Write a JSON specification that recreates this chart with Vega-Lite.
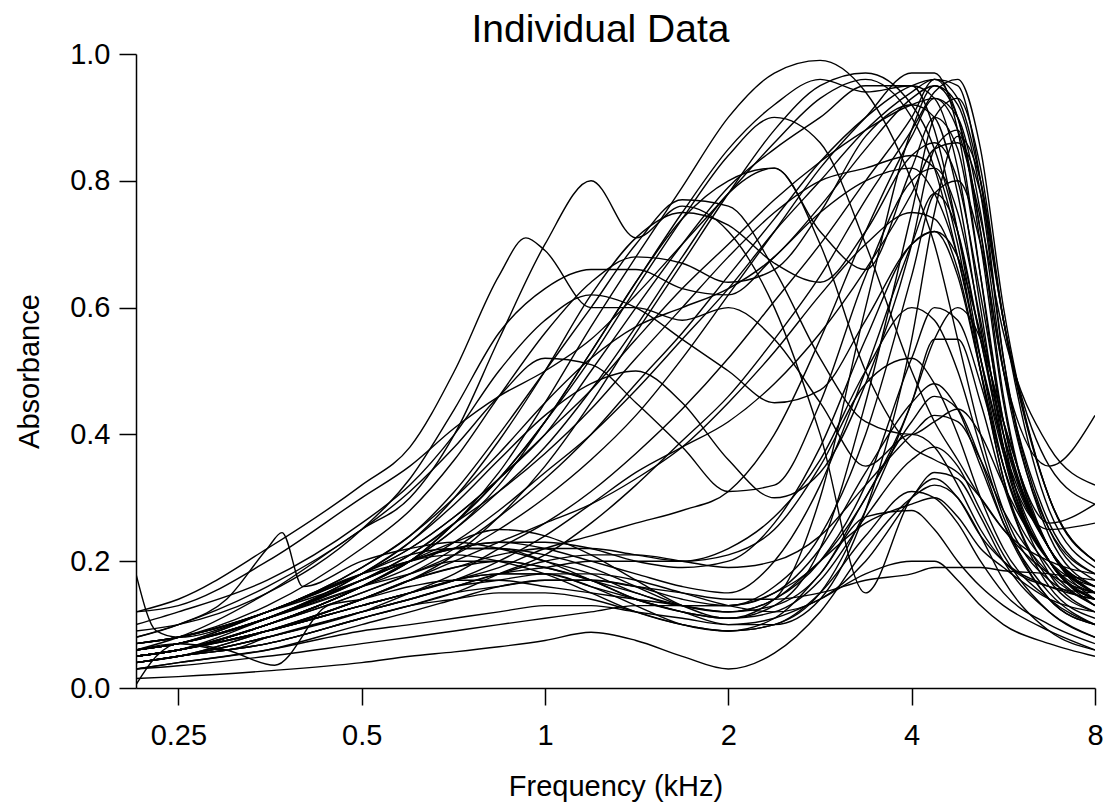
{
"$schema": "https://vega.github.io/schema/vega-lite/v6.json",
"width": 959, "height": 634,
"autosize": {"type": "none"},
"padding": {"left": 136, "top": 54, "right": 9, "bottom": 115},
"background": "white",
"title": {"text": "Individual Data", "fontSize": 39, "font": "Liberation Sans", "fontWeight": "normal", "color": "black", "frame": "group", "offset": -10, "dx": -15},
"config": {
  "view": {"stroke": null},
  "axis": {"domainColor": "black", "domainWidth": 1.5, "tickColor": "black", "tickWidth": 1.5, "tickSize": 17, "labelColor": "black", "titleColor": "black", "labelFont": "Liberation Sans", "titleFont": "Liberation Sans", "labelFontSize": 29, "titleFontSize": 29, "titleFontWeight": "normal", "grid": false}
},
"data": {"values": [
{"s":1,"f":0.213,"a":0.06},{"s":1,"f":0.25,"a":0.08},{"s":1,"f":0.35,"a":0.15},{"s":1,"f":0.5,"a":0.25},{"s":1,"f":0.6,"a":0.3},{"s":1,"f":0.71,"a":0.4},{"s":1,"f":0.84,"a":0.55},{"s":1,"f":1,"a":0.7},{"s":1,"f":1.19,"a":0.8},{"s":1,"f":1.41,"a":0.71},{"s":1,"f":1.68,"a":0.76},{"s":1,"f":2,"a":0.72},{"s":1,"f":2.38,"a":0.6},{"s":1,"f":2.83,"a":0.4},{"s":1,"f":3.36,"a":0.15},{"s":1,"f":4,"a":0.3},{"s":1,"f":4.36,"a":0.33},{"s":1,"f":4.76,"a":0.3},{"s":1,"f":5.19,"a":0.24},{"s":1,"f":5.66,"a":0.2},{"s":1,"f":6.73,"a":0.16},{"s":1,"f":8,"a":0.14},
{"s":2,"f":0.213,"a":0.12},{"s":2,"f":0.25,"a":0.14},{"s":2,"f":0.35,"a":0.22},{"s":2,"f":0.5,"a":0.32},{"s":2,"f":0.6,"a":0.38},{"s":2,"f":0.71,"a":0.5},{"s":2,"f":0.84,"a":0.65},{"s":2,"f":0.93,"a":0.71},{"s":2,"f":1,"a":0.69},{"s":2,"f":1.19,"a":0.6},{"s":2,"f":1.41,"a":0.6},{"s":2,"f":1.68,"a":0.58},{"s":2,"f":2,"a":0.6},{"s":2,"f":2.38,"a":0.55},{"s":2,"f":2.83,"a":0.45},{"s":2,"f":3.36,"a":0.35},{"s":2,"f":4,"a":0.4},{"s":2,"f":4.36,"a":0.38},{"s":2,"f":4.76,"a":0.32},{"s":2,"f":5.19,"a":0.25},{"s":2,"f":5.66,"a":0.2},{"s":2,"f":6.73,"a":0.16},{"s":2,"f":8,"a":0.15},
{"s":3,"f":0.213,"a":0.05},{"s":3,"f":0.25,"a":0.06},{"s":3,"f":0.35,"a":0.1},{"s":3,"f":0.5,"a":0.16},{"s":3,"f":0.6,"a":0.2},{"s":3,"f":0.71,"a":0.26},{"s":3,"f":0.84,"a":0.34},{"s":3,"f":1,"a":0.45},{"s":3,"f":1.19,"a":0.57},{"s":3,"f":1.41,"a":0.68},{"s":3,"f":1.68,"a":0.79},{"s":3,"f":2,"a":0.9},{"s":3,"f":2.38,"a":0.97},{"s":3,"f":2.83,"a":0.99},{"s":3,"f":3.36,"a":0.94},{"s":3,"f":4,"a":0.8},{"s":3,"f":4.36,"a":0.7},{"s":3,"f":4.76,"a":0.55},{"s":3,"f":5.19,"a":0.4},{"s":3,"f":5.66,"a":0.28},{"s":3,"f":6.73,"a":0.17},{"s":3,"f":8,"a":0.14},
{"s":4,"f":0.213,"a":0.04},{"s":4,"f":0.25,"a":0.05},{"s":4,"f":0.35,"a":0.09},{"s":4,"f":0.5,"a":0.14},{"s":4,"f":0.6,"a":0.17},{"s":4,"f":0.71,"a":0.21},{"s":4,"f":0.84,"a":0.27},{"s":4,"f":1,"a":0.35},{"s":4,"f":1.19,"a":0.45},{"s":4,"f":1.41,"a":0.56},{"s":4,"f":1.68,"a":0.67},{"s":4,"f":2,"a":0.78},{"s":4,"f":2.38,"a":0.88},{"s":4,"f":2.83,"a":0.95},{"s":4,"f":3.36,"a":0.97},{"s":4,"f":4,"a":0.92},{"s":4,"f":4.36,"a":0.85},{"s":4,"f":4.76,"a":0.72},{"s":4,"f":5.19,"a":0.55},{"s":4,"f":5.66,"a":0.4},{"s":4,"f":6.73,"a":0.22},{"s":4,"f":8,"a":0.15},
{"s":5,"f":0.213,"a":0.05},{"s":5,"f":0.25,"a":0.06},{"s":5,"f":0.35,"a":0.1},{"s":5,"f":0.5,"a":0.15},{"s":5,"f":0.6,"a":0.18},{"s":5,"f":0.71,"a":0.21},{"s":5,"f":0.84,"a":0.25},{"s":5,"f":1,"a":0.3},{"s":5,"f":1.19,"a":0.36},{"s":5,"f":1.41,"a":0.43},{"s":5,"f":1.68,"a":0.52},{"s":5,"f":2,"a":0.62},{"s":5,"f":2.38,"a":0.72},{"s":5,"f":2.83,"a":0.82},{"s":5,"f":3.36,"a":0.9},{"s":5,"f":4,"a":0.97},{"s":5,"f":4.36,"a":0.97},{"s":5,"f":4.76,"a":0.88},{"s":5,"f":5.19,"a":0.65},{"s":5,"f":5.66,"a":0.4},{"s":5,"f":6.73,"a":0.2},{"s":5,"f":8,"a":0.15},
{"s":6,"f":0.213,"a":0.04},{"s":6,"f":0.25,"a":0.05},{"s":6,"f":0.35,"a":0.08},{"s":6,"f":0.5,"a":0.12},{"s":6,"f":0.6,"a":0.15},{"s":6,"f":0.71,"a":0.18},{"s":6,"f":0.84,"a":0.22},{"s":6,"f":1,"a":0.26},{"s":6,"f":1.19,"a":0.31},{"s":6,"f":1.41,"a":0.37},{"s":6,"f":1.68,"a":0.44},{"s":6,"f":2,"a":0.52},{"s":6,"f":2.38,"a":0.61},{"s":6,"f":2.83,"a":0.7},{"s":6,"f":3.36,"a":0.8},{"s":6,"f":4,"a":0.9},{"s":6,"f":4.36,"a":0.96},{"s":6,"f":4.76,"a":0.95},{"s":6,"f":5.19,"a":0.8},{"s":6,"f":5.66,"a":0.52},{"s":6,"f":6.73,"a":0.24},{"s":6,"f":8,"a":0.16},
{"s":7,"f":0.213,"a":0.06},{"s":7,"f":0.25,"a":0.07},{"s":7,"f":0.35,"a":0.12},{"s":7,"f":0.5,"a":0.18},{"s":7,"f":0.6,"a":0.22},{"s":7,"f":0.71,"a":0.27},{"s":7,"f":0.84,"a":0.33},{"s":7,"f":1,"a":0.4},{"s":7,"f":1.19,"a":0.5},{"s":7,"f":1.41,"a":0.6},{"s":7,"f":1.68,"a":0.7},{"s":7,"f":2,"a":0.79},{"s":7,"f":2.38,"a":0.85},{"s":7,"f":2.83,"a":0.9},{"s":7,"f":3.36,"a":0.95},{"s":7,"f":4,"a":0.95},{"s":7,"f":4.36,"a":0.88},{"s":7,"f":4.76,"a":0.72},{"s":7,"f":5.19,"a":0.52},{"s":7,"f":5.66,"a":0.35},{"s":7,"f":6.73,"a":0.2},{"s":7,"f":8,"a":0.13},
{"s":8,"f":0.213,"a":0.05},{"s":8,"f":0.25,"a":0.06},{"s":8,"f":0.35,"a":0.1},{"s":8,"f":0.5,"a":0.16},{"s":8,"f":0.6,"a":0.2},{"s":8,"f":0.71,"a":0.25},{"s":8,"f":0.84,"a":0.32},{"s":8,"f":1,"a":0.42},{"s":8,"f":1.19,"a":0.53},{"s":8,"f":1.41,"a":0.64},{"s":8,"f":1.68,"a":0.75},{"s":8,"f":2,"a":0.85},{"s":8,"f":2.38,"a":0.92},{"s":8,"f":2.83,"a":0.96},{"s":8,"f":3.36,"a":0.94},{"s":8,"f":4,"a":0.95},{"s":8,"f":4.36,"a":0.93},{"s":8,"f":4.76,"a":0.82},{"s":8,"f":5.19,"a":0.6},{"s":8,"f":5.66,"a":0.38},{"s":8,"f":6.73,"a":0.2},{"s":8,"f":8,"a":0.14},
{"s":9,"f":0.213,"a":0.07},{"s":9,"f":0.25,"a":0.08},{"s":9,"f":0.35,"a":0.12},{"s":9,"f":0.5,"a":0.19},{"s":9,"f":0.6,"a":0.24},{"s":9,"f":0.71,"a":0.3},{"s":9,"f":0.84,"a":0.37},{"s":9,"f":1,"a":0.45},{"s":9,"f":1.19,"a":0.52},{"s":9,"f":1.41,"a":0.57},{"s":9,"f":1.68,"a":0.6},{"s":9,"f":2,"a":0.63},{"s":9,"f":2.38,"a":0.68},{"s":9,"f":2.83,"a":0.76},{"s":9,"f":3.36,"a":0.85},{"s":9,"f":4,"a":0.93},{"s":9,"f":4.36,"a":0.95},{"s":9,"f":4.76,"a":0.9},{"s":9,"f":5.19,"a":0.72},{"s":9,"f":5.66,"a":0.46},{"s":9,"f":6.73,"a":0.22},{"s":9,"f":8,"a":0.16},
{"s":10,"f":0.213,"a":0.05},{"s":10,"f":0.25,"a":0.06},{"s":10,"f":0.35,"a":0.09},{"s":10,"f":0.5,"a":0.13},{"s":10,"f":0.6,"a":0.15},{"s":10,"f":0.71,"a":0.17},{"s":10,"f":0.84,"a":0.19},{"s":10,"f":1,"a":0.22},{"s":10,"f":1.19,"a":0.24},{"s":10,"f":1.41,"a":0.26},{"s":10,"f":1.68,"a":0.28},{"s":10,"f":2,"a":0.31},{"s":10,"f":2.38,"a":0.4},{"s":10,"f":2.83,"a":0.55},{"s":10,"f":3.36,"a":0.72},{"s":10,"f":4,"a":0.87},{"s":10,"f":4.36,"a":0.93},{"s":10,"f":4.76,"a":0.9},{"s":10,"f":5.19,"a":0.75},{"s":10,"f":5.66,"a":0.5},{"s":10,"f":6.73,"a":0.25},{"s":10,"f":8,"a":0.18},
{"s":11,"f":0.213,"a":0.04},{"s":11,"f":0.25,"a":0.05},{"s":11,"f":0.35,"a":0.07},{"s":11,"f":0.5,"a":0.11},{"s":11,"f":0.6,"a":0.13},{"s":11,"f":0.71,"a":0.15},{"s":11,"f":0.84,"a":0.18},{"s":11,"f":1,"a":0.21},{"s":11,"f":1.19,"a":0.26},{"s":11,"f":1.41,"a":0.32},{"s":11,"f":1.68,"a":0.39},{"s":11,"f":2,"a":0.46},{"s":11,"f":2.38,"a":0.55},{"s":11,"f":2.83,"a":0.65},{"s":11,"f":3.36,"a":0.77},{"s":11,"f":4,"a":0.88},{"s":11,"f":4.36,"a":0.94},{"s":11,"f":4.76,"a":0.96},{"s":11,"f":5.19,"a":0.85},{"s":11,"f":5.66,"a":0.6},{"s":11,"f":6.73,"a":0.3},{"s":11,"f":8,"a":0.2},
{"s":12,"f":0.213,"a":0.06},{"s":12,"f":0.25,"a":0.07},{"s":12,"f":0.35,"a":0.11},{"s":12,"f":0.5,"a":0.17},{"s":12,"f":0.6,"a":0.21},{"s":12,"f":0.71,"a":0.26},{"s":12,"f":0.84,"a":0.31},{"s":12,"f":1,"a":0.37},{"s":12,"f":1.19,"a":0.44},{"s":12,"f":1.41,"a":0.52},{"s":12,"f":1.68,"a":0.6},{"s":12,"f":2,"a":0.68},{"s":12,"f":2.38,"a":0.75},{"s":12,"f":2.83,"a":0.8},{"s":12,"f":3.36,"a":0.82},{"s":12,"f":4,"a":0.84},{"s":12,"f":4.36,"a":0.82},{"s":12,"f":4.76,"a":0.7},{"s":12,"f":5.19,"a":0.5},{"s":12,"f":5.66,"a":0.33},{"s":12,"f":6.73,"a":0.19},{"s":12,"f":8,"a":0.13},
{"s":13,"f":0.213,"a":0.05},{"s":13,"f":0.25,"a":0.06},{"s":13,"f":0.35,"a":0.09},{"s":13,"f":0.5,"a":0.14},{"s":13,"f":0.6,"a":0.17},{"s":13,"f":0.71,"a":0.2},{"s":13,"f":0.84,"a":0.23},{"s":13,"f":1,"a":0.26},{"s":13,"f":1.19,"a":0.29},{"s":13,"f":1.41,"a":0.33},{"s":13,"f":1.68,"a":0.38},{"s":13,"f":2,"a":0.45},{"s":13,"f":2.38,"a":0.53},{"s":13,"f":2.83,"a":0.62},{"s":13,"f":3.36,"a":0.7},{"s":13,"f":4,"a":0.75},{"s":13,"f":4.36,"a":0.74},{"s":13,"f":4.76,"a":0.66},{"s":13,"f":5.19,"a":0.5},{"s":13,"f":5.66,"a":0.33},{"s":13,"f":6.73,"a":0.17},{"s":13,"f":8,"a":0.12},
{"s":14,"f":0.213,"a":0.04},{"s":14,"f":0.25,"a":0.05},{"s":14,"f":0.35,"a":0.08},{"s":14,"f":0.5,"a":0.12},{"s":14,"f":0.6,"a":0.14},{"s":14,"f":0.71,"a":0.16},{"s":14,"f":0.84,"a":0.18},{"s":14,"f":1,"a":0.19},{"s":14,"f":1.19,"a":0.2},{"s":14,"f":1.41,"a":0.2},{"s":14,"f":1.68,"a":0.2},{"s":14,"f":2,"a":0.22},{"s":14,"f":2.38,"a":0.27},{"s":14,"f":2.83,"a":0.36},{"s":14,"f":3.36,"a":0.5},{"s":14,"f":4,"a":0.6},{"s":14,"f":4.36,"a":0.58},{"s":14,"f":4.76,"a":0.5},{"s":14,"f":5.19,"a":0.38},{"s":14,"f":5.66,"a":0.27},{"s":14,"f":6.73,"a":0.14},{"s":14,"f":8,"a":0.1},
{"s":15,"f":0.213,"a":0.05},{"s":15,"f":0.25,"a":0.06},{"s":15,"f":0.35,"a":0.09},{"s":15,"f":0.5,"a":0.14},{"s":15,"f":0.6,"a":0.17},{"s":15,"f":0.71,"a":0.19},{"s":15,"f":0.84,"a":0.21},{"s":15,"f":1,"a":0.22},{"s":15,"f":1.19,"a":0.22},{"s":15,"f":1.41,"a":0.21},{"s":15,"f":1.68,"a":0.2},{"s":15,"f":2,"a":0.21},{"s":15,"f":2.38,"a":0.25},{"s":15,"f":2.83,"a":0.35},{"s":15,"f":3.36,"a":0.48},{"s":15,"f":4,"a":0.52},{"s":15,"f":4.36,"a":0.48},{"s":15,"f":4.76,"a":0.4},{"s":15,"f":5.19,"a":0.3},{"s":15,"f":5.66,"a":0.22},{"s":15,"f":6.73,"a":0.14},{"s":15,"f":8,"a":0.1},
{"s":16,"f":0.213,"a":0.03},{"s":16,"f":0.25,"a":0.04},{"s":16,"f":0.35,"a":0.06},{"s":16,"f":0.5,"a":0.1},{"s":16,"f":0.6,"a":0.12},{"s":16,"f":0.71,"a":0.14},{"s":16,"f":0.84,"a":0.16},{"s":16,"f":1,"a":0.17},{"s":16,"f":1.19,"a":0.17},{"s":16,"f":1.41,"a":0.16},{"s":16,"f":1.68,"a":0.14},{"s":16,"f":2,"a":0.13},{"s":16,"f":2.38,"a":0.15},{"s":16,"f":2.83,"a":0.22},{"s":16,"f":3.36,"a":0.34},{"s":16,"f":4,"a":0.45},{"s":16,"f":4.36,"a":0.48},{"s":16,"f":4.76,"a":0.44},{"s":16,"f":5.19,"a":0.35},{"s":16,"f":5.66,"a":0.26},{"s":16,"f":6.73,"a":0.15},{"s":16,"f":8,"a":0.1},
{"s":17,"f":0.213,"a":0.05},{"s":17,"f":0.25,"a":0.06},{"s":17,"f":0.35,"a":0.09},{"s":17,"f":0.5,"a":0.13},{"s":17,"f":0.6,"a":0.15},{"s":17,"f":0.71,"a":0.17},{"s":17,"f":0.84,"a":0.18},{"s":17,"f":1,"a":0.18},{"s":17,"f":1.19,"a":0.16},{"s":17,"f":1.41,"a":0.14},{"s":17,"f":1.68,"a":0.12},{"s":17,"f":2,"a":0.11},{"s":17,"f":2.38,"a":0.12},{"s":17,"f":2.83,"a":0.17},{"s":17,"f":3.36,"a":0.27},{"s":17,"f":4,"a":0.36},{"s":17,"f":4.36,"a":0.38},{"s":17,"f":4.76,"a":0.35},{"s":17,"f":5.19,"a":0.28},{"s":17,"f":5.66,"a":0.21},{"s":17,"f":6.73,"a":0.12},{"s":17,"f":8,"a":0.08},
{"s":18,"f":0.213,"a":0.015},{"s":18,"f":0.25,"a":0.018},{"s":18,"f":0.35,"a":0.027},{"s":18,"f":0.5,"a":0.04},{"s":18,"f":0.6,"a":0.05},{"s":18,"f":0.71,"a":0.057},{"s":18,"f":0.84,"a":0.065},{"s":18,"f":1,"a":0.075},{"s":18,"f":1.19,"a":0.088},{"s":18,"f":1.41,"a":0.075},{"s":18,"f":1.68,"a":0.05},{"s":18,"f":2,"a":0.03},{"s":18,"f":2.38,"a":0.055},{"s":18,"f":2.83,"a":0.12},{"s":18,"f":3.36,"a":0.22},{"s":18,"f":4,"a":0.3},{"s":18,"f":4.36,"a":0.32},{"s":18,"f":4.76,"a":0.3},{"s":18,"f":5.19,"a":0.24},{"s":18,"f":5.66,"a":0.17},{"s":18,"f":6.73,"a":0.09},{"s":18,"f":8,"a":0.06},
{"s":19,"f":0.213,"a":0.04},{"s":19,"f":0.25,"a":0.05},{"s":19,"f":0.35,"a":0.07},{"s":19,"f":0.5,"a":0.11},{"s":19,"f":0.6,"a":0.13},{"s":19,"f":0.71,"a":0.14},{"s":19,"f":0.84,"a":0.15},{"s":19,"f":1,"a":0.15},{"s":19,"f":1.19,"a":0.14},{"s":19,"f":1.41,"a":0.12},{"s":19,"f":1.68,"a":0.1},{"s":19,"f":2,"a":0.09},{"s":19,"f":2.38,"a":0.1},{"s":19,"f":2.83,"a":0.15},{"s":19,"f":3.36,"a":0.24},{"s":19,"f":4,"a":0.31},{"s":19,"f":4.36,"a":0.3},{"s":19,"f":4.76,"a":0.26},{"s":19,"f":5.19,"a":0.2},{"s":19,"f":5.66,"a":0.15},{"s":19,"f":6.73,"a":0.1},{"s":19,"f":8,"a":0.07},
{"s":20,"f":0.213,"a":0.03},{"s":20,"f":0.25,"a":0.04},{"s":20,"f":0.35,"a":0.06},{"s":20,"f":0.5,"a":0.09},{"s":20,"f":0.6,"a":0.1},{"s":20,"f":0.71,"a":0.11},{"s":20,"f":0.84,"a":0.12},{"s":20,"f":1,"a":0.13},{"s":20,"f":1.19,"a":0.13},{"s":20,"f":1.41,"a":0.12},{"s":20,"f":1.68,"a":0.11},{"s":20,"f":2,"a":0.1},{"s":20,"f":2.38,"a":0.11},{"s":20,"f":2.83,"a":0.14},{"s":20,"f":3.36,"a":0.18},{"s":20,"f":4,"a":0.2},{"s":20,"f":4.36,"a":0.2},{"s":20,"f":4.76,"a":0.17},{"s":20,"f":5.19,"a":0.13},{"s":20,"f":5.66,"a":0.1},{"s":20,"f":6.73,"a":0.07},{"s":20,"f":8,"a":0.05},
{"s":21,"f":0.213,"a":0.06},{"s":21,"f":0.25,"a":0.07},{"s":21,"f":0.35,"a":0.11},{"s":21,"f":0.5,"a":0.17},{"s":21,"f":0.6,"a":0.21},{"s":21,"f":0.71,"a":0.26},{"s":21,"f":0.84,"a":0.33},{"s":21,"f":1,"a":0.42},{"s":21,"f":1.19,"a":0.53},{"s":21,"f":1.41,"a":0.64},{"s":21,"f":1.68,"a":0.74},{"s":21,"f":2,"a":0.8},{"s":21,"f":2.38,"a":0.82},{"s":21,"f":2.83,"a":0.72},{"s":21,"f":3.36,"a":0.66},{"s":21,"f":4,"a":0.82},{"s":21,"f":4.36,"a":0.9},{"s":21,"f":4.76,"a":0.85},{"s":21,"f":5.19,"a":0.65},{"s":21,"f":5.66,"a":0.42},{"s":21,"f":6.73,"a":0.22},{"s":21,"f":8,"a":0.15},
{"s":22,"f":0.213,"a":0.07},{"s":22,"f":0.25,"a":0.08},{"s":22,"f":0.35,"a":0.13},{"s":22,"f":0.5,"a":0.22},{"s":22,"f":0.6,"a":0.28},{"s":22,"f":0.71,"a":0.36},{"s":22,"f":0.84,"a":0.46},{"s":22,"f":1,"a":0.56},{"s":22,"f":1.19,"a":0.64},{"s":22,"f":1.41,"a":0.68},{"s":22,"f":1.68,"a":0.67},{"s":22,"f":2,"a":0.64},{"s":22,"f":2.38,"a":0.66},{"s":22,"f":2.83,"a":0.75},{"s":22,"f":3.36,"a":0.87},{"s":22,"f":4,"a":0.92},{"s":22,"f":4.36,"a":0.9},{"s":22,"f":4.76,"a":0.78},{"s":22,"f":5.19,"a":0.57},{"s":22,"f":5.66,"a":0.37},{"s":22,"f":6.73,"a":0.2},{"s":22,"f":8,"a":0.14},
{"s":23,"f":0.213,"a":0.06},{"s":23,"f":0.25,"a":0.07},{"s":23,"f":0.35,"a":0.11},{"s":23,"f":0.5,"a":0.18},{"s":23,"f":0.6,"a":0.23},{"s":23,"f":0.71,"a":0.3},{"s":23,"f":0.84,"a":0.39},{"s":23,"f":1,"a":0.5},{"s":23,"f":1.19,"a":0.62},{"s":23,"f":1.41,"a":0.71},{"s":23,"f":1.68,"a":0.75},{"s":23,"f":2,"a":0.73},{"s":23,"f":2.38,"a":0.67},{"s":23,"f":2.83,"a":0.64},{"s":23,"f":3.36,"a":0.72},{"s":23,"f":4,"a":0.84},{"s":23,"f":4.36,"a":0.86},{"s":23,"f":4.76,"a":0.8},{"s":23,"f":5.19,"a":0.62},{"s":23,"f":5.66,"a":0.42},{"s":23,"f":6.73,"a":0.22},{"s":23,"f":8,"a":0.15},
{"s":24,"f":0.213,"a":0.08},{"s":24,"f":0.25,"a":0.1},{"s":24,"f":0.35,"a":0.16},{"s":24,"f":0.5,"a":0.25},{"s":24,"f":0.6,"a":0.31},{"s":24,"f":0.71,"a":0.38},{"s":24,"f":0.84,"a":0.46},{"s":24,"f":1,"a":0.52},{"s":24,"f":1.19,"a":0.51},{"s":24,"f":1.41,"a":0.45},{"s":24,"f":1.68,"a":0.38},{"s":24,"f":2,"a":0.31},{"s":24,"f":2.38,"a":0.32},{"s":24,"f":2.83,"a":0.45},{"s":24,"f":3.36,"a":0.65},{"s":24,"f":4,"a":0.8},{"s":24,"f":4.36,"a":0.82},{"s":24,"f":4.76,"a":0.75},{"s":24,"f":5.19,"a":0.58},{"s":24,"f":5.66,"a":0.4},{"s":24,"f":6.73,"a":0.22},{"s":24,"f":8,"a":0.16},
{"s":25,"f":0.213,"a":0.06},{"s":25,"f":0.25,"a":0.07},{"s":25,"f":0.35,"a":0.11},{"s":25,"f":0.5,"a":0.18},{"s":25,"f":0.6,"a":0.23},{"s":25,"f":0.71,"a":0.29},{"s":25,"f":0.84,"a":0.36},{"s":25,"f":1,"a":0.43},{"s":25,"f":1.19,"a":0.48},{"s":25,"f":1.41,"a":0.5},{"s":25,"f":1.68,"a":0.45},{"s":25,"f":2,"a":0.36},{"s":25,"f":2.38,"a":0.3},{"s":25,"f":2.83,"a":0.34},{"s":25,"f":3.36,"a":0.48},{"s":25,"f":4,"a":0.7},{"s":25,"f":4.36,"a":0.85},{"s":25,"f":4.76,"a":0.88},{"s":25,"f":5.19,"a":0.7},{"s":25,"f":5.66,"a":0.45},{"s":25,"f":6.73,"a":0.22},{"s":25,"f":8,"a":0.15},
{"s":26,"f":0.213,"a":0.1},{"s":26,"f":0.25,"a":0.12},{"s":26,"f":0.35,"a":0.17},{"s":26,"f":0.5,"a":0.26},{"s":26,"f":0.6,"a":0.32},{"s":26,"f":0.71,"a":0.4},{"s":26,"f":0.84,"a":0.5},{"s":26,"f":1,"a":0.58},{"s":26,"f":1.19,"a":0.62},{"s":26,"f":1.41,"a":0.6},{"s":26,"f":1.68,"a":0.55},{"s":26,"f":2,"a":0.5},{"s":26,"f":2.38,"a":0.45},{"s":26,"f":2.83,"a":0.47},{"s":26,"f":3.36,"a":0.58},{"s":26,"f":4,"a":0.7},{"s":26,"f":4.36,"a":0.72},{"s":26,"f":4.76,"a":0.65},{"s":26,"f":5.19,"a":0.5},{"s":26,"f":5.66,"a":0.35},{"s":26,"f":6.73,"a":0.2},{"s":26,"f":8,"a":0.14},
{"s":27,"f":0.213,"a":0.09},{"s":27,"f":0.25,"a":0.1},{"s":27,"f":0.35,"a":0.15},{"s":27,"f":0.5,"a":0.25},{"s":27,"f":0.6,"a":0.33},{"s":27,"f":0.71,"a":0.44},{"s":27,"f":0.84,"a":0.56},{"s":27,"f":1,"a":0.63},{"s":27,"f":1.19,"a":0.66},{"s":27,"f":1.41,"a":0.66},{"s":27,"f":1.68,"a":0.63},{"s":27,"f":2,"a":0.62},{"s":27,"f":2.38,"a":0.68},{"s":27,"f":2.83,"a":0.75},{"s":27,"f":3.36,"a":0.8},{"s":27,"f":4,"a":0.82},{"s":27,"f":4.36,"a":0.78},{"s":27,"f":4.76,"a":0.68},{"s":27,"f":5.19,"a":0.52},{"s":27,"f":5.66,"a":0.37},{"s":27,"f":6.73,"a":0.25},{"s":27,"f":8,"a":0.26},
{"s":28,"f":0.213,"a":0.12},{"s":28,"f":0.25,"a":0.13},{"s":28,"f":0.35,"a":0.2},{"s":28,"f":0.5,"a":0.3},{"s":28,"f":0.6,"a":0.35},{"s":28,"f":0.71,"a":0.41},{"s":28,"f":0.84,"a":0.46},{"s":28,"f":1,"a":0.5},{"s":28,"f":1.19,"a":0.55},{"s":28,"f":1.41,"a":0.62},{"s":28,"f":1.68,"a":0.7},{"s":28,"f":2,"a":0.78},{"s":28,"f":2.38,"a":0.86},{"s":28,"f":2.83,"a":0.93},{"s":28,"f":3.36,"a":0.96},{"s":28,"f":4,"a":0.9},{"s":28,"f":4.36,"a":0.82},{"s":28,"f":4.76,"a":0.68},{"s":28,"f":5.19,"a":0.52},{"s":28,"f":5.66,"a":0.38},{"s":28,"f":6.73,"a":0.22},{"s":28,"f":8,"a":0.15},
{"s":29,"f":0.213,"a":0.05},{"s":29,"f":0.25,"a":0.06},{"s":29,"f":0.35,"a":0.1},{"s":29,"f":0.5,"a":0.16},{"s":29,"f":0.6,"a":0.2},{"s":29,"f":0.71,"a":0.25},{"s":29,"f":0.84,"a":0.31},{"s":29,"f":1,"a":0.38},{"s":29,"f":1.19,"a":0.47},{"s":29,"f":1.41,"a":0.57},{"s":29,"f":1.68,"a":0.68},{"s":29,"f":2,"a":0.78},{"s":29,"f":2.38,"a":0.82},{"s":29,"f":2.83,"a":0.7},{"s":29,"f":3.36,"a":0.5},{"s":29,"f":4,"a":0.38},{"s":29,"f":4.36,"a":0.36},{"s":29,"f":4.76,"a":0.34},{"s":29,"f":5.19,"a":0.3},{"s":29,"f":5.66,"a":0.25},{"s":29,"f":6.73,"a":0.18},{"s":29,"f":8,"a":0.15},
{"s":30,"f":0.213,"a":0.07},{"s":30,"f":0.25,"a":0.08},{"s":30,"f":0.35,"a":0.12},{"s":30,"f":0.5,"a":0.19},{"s":30,"f":0.6,"a":0.24},{"s":30,"f":0.71,"a":0.31},{"s":30,"f":0.84,"a":0.4},{"s":30,"f":1,"a":0.5},{"s":30,"f":1.19,"a":0.6},{"s":30,"f":1.41,"a":0.7},{"s":30,"f":1.68,"a":0.77},{"s":30,"f":2,"a":0.76},{"s":30,"f":2.38,"a":0.66},{"s":30,"f":2.83,"a":0.52},{"s":30,"f":3.36,"a":0.42},{"s":30,"f":4,"a":0.4},{"s":30,"f":4.36,"a":0.42},{"s":30,"f":4.76,"a":0.44},{"s":30,"f":5.19,"a":0.4},{"s":30,"f":5.66,"a":0.32},{"s":30,"f":6.73,"a":0.2},{"s":30,"f":8,"a":0.16},
{"s":31,"f":0.213,"a":0.05},{"s":31,"f":0.25,"a":0.06},{"s":31,"f":0.35,"a":0.1},{"s":31,"f":0.5,"a":0.16},{"s":31,"f":0.6,"a":0.2},{"s":31,"f":0.71,"a":0.23},{"s":31,"f":0.84,"a":0.25},{"s":31,"f":1,"a":0.24},{"s":31,"f":1.19,"a":0.21},{"s":31,"f":1.41,"a":0.17},{"s":31,"f":1.68,"a":0.13},{"s":31,"f":2,"a":0.11},{"s":31,"f":2.38,"a":0.14},{"s":31,"f":2.83,"a":0.3},{"s":31,"f":3.36,"a":0.6},{"s":31,"f":4,"a":0.88},{"s":31,"f":4.36,"a":0.95},{"s":31,"f":4.76,"a":0.92},{"s":31,"f":5.19,"a":0.78},{"s":31,"f":5.66,"a":0.52},{"s":31,"f":6.73,"a":0.25},{"s":31,"f":8,"a":0.17},
{"s":32,"f":0.213,"a":0.06},{"s":32,"f":0.25,"a":0.07},{"s":32,"f":0.35,"a":0.12},{"s":32,"f":0.5,"a":0.18},{"s":32,"f":0.6,"a":0.21},{"s":32,"f":0.71,"a":0.22},{"s":32,"f":0.84,"a":0.22},{"s":32,"f":1,"a":0.2},{"s":32,"f":1.19,"a":0.17},{"s":32,"f":1.41,"a":0.14},{"s":32,"f":1.68,"a":0.12},{"s":32,"f":2,"a":0.11},{"s":32,"f":2.38,"a":0.13},{"s":32,"f":2.83,"a":0.22},{"s":32,"f":3.36,"a":0.45},{"s":32,"f":4,"a":0.75},{"s":32,"f":4.36,"a":0.9},{"s":32,"f":4.76,"a":0.93},{"s":32,"f":5.19,"a":0.82},{"s":32,"f":5.66,"a":0.58},{"s":32,"f":6.73,"a":0.28},{"s":32,"f":8,"a":0.19},
{"s":33,"f":0.213,"a":0.04},{"s":33,"f":0.25,"a":0.05},{"s":33,"f":0.35,"a":0.09},{"s":33,"f":0.5,"a":0.14},{"s":33,"f":0.6,"a":0.17},{"s":33,"f":0.71,"a":0.19},{"s":33,"f":0.84,"a":0.2},{"s":33,"f":1,"a":0.19},{"s":33,"f":1.19,"a":0.17},{"s":33,"f":1.41,"a":0.14},{"s":33,"f":1.68,"a":0.12},{"s":33,"f":2,"a":0.1},{"s":33,"f":2.38,"a":0.1},{"s":33,"f":2.83,"a":0.14},{"s":33,"f":3.36,"a":0.28},{"s":33,"f":4,"a":0.55},{"s":33,"f":4.36,"a":0.75},{"s":33,"f":4.76,"a":0.87},{"s":33,"f":5.19,"a":0.8},{"s":33,"f":5.66,"a":0.58},{"s":33,"f":6.73,"a":0.3},{"s":33,"f":8,"a":0.2},
{"s":34,"f":0.213,"a":0.05},{"s":34,"f":0.25,"a":0.06},{"s":34,"f":0.35,"a":0.09},{"s":34,"f":0.5,"a":0.13},{"s":34,"f":0.6,"a":0.15},{"s":34,"f":0.71,"a":0.17},{"s":34,"f":0.84,"a":0.18},{"s":34,"f":1,"a":0.18},{"s":34,"f":1.19,"a":0.16},{"s":34,"f":1.41,"a":0.13},{"s":34,"f":1.68,"a":0.1},{"s":34,"f":2,"a":0.09},{"s":34,"f":2.38,"a":0.1},{"s":34,"f":2.83,"a":0.15},{"s":34,"f":3.36,"a":0.28},{"s":34,"f":4,"a":0.45},{"s":34,"f":4.36,"a":0.55},{"s":34,"f":4.76,"a":0.55},{"s":34,"f":5.19,"a":0.45},{"s":34,"f":5.66,"a":0.32},{"s":34,"f":6.73,"a":0.16},{"s":34,"f":8,"a":0.11},
{"s":35,"f":0.213,"a":0.07},{"s":35,"f":0.25,"a":0.08},{"s":35,"f":0.35,"a":0.12},{"s":35,"f":0.5,"a":0.18},{"s":35,"f":0.6,"a":0.2},{"s":35,"f":0.71,"a":0.22},{"s":35,"f":0.84,"a":0.22},{"s":35,"f":1,"a":0.21},{"s":35,"f":1.19,"a":0.19},{"s":35,"f":1.41,"a":0.16},{"s":35,"f":1.68,"a":0.13},{"s":35,"f":2,"a":0.12},{"s":35,"f":2.38,"a":0.14},{"s":35,"f":2.83,"a":0.2},{"s":35,"f":3.36,"a":0.32},{"s":35,"f":4,"a":0.52},{"s":35,"f":4.36,"a":0.6},{"s":35,"f":4.76,"a":0.58},{"s":35,"f":5.19,"a":0.48},{"s":35,"f":5.66,"a":0.35},{"s":35,"f":6.73,"a":0.18},{"s":35,"f":8,"a":0.12},
{"s":36,"f":0.213,"a":0.06},{"s":36,"f":0.25,"a":0.07},{"s":36,"f":0.35,"a":0.11},{"s":36,"f":0.5,"a":0.16},{"s":36,"f":0.6,"a":0.18},{"s":36,"f":0.71,"a":0.2},{"s":36,"f":0.84,"a":0.2},{"s":36,"f":1,"a":0.19},{"s":36,"f":1.19,"a":0.17},{"s":36,"f":1.41,"a":0.15},{"s":36,"f":1.68,"a":0.13},{"s":36,"f":2,"a":0.13},{"s":36,"f":2.38,"a":0.16},{"s":36,"f":2.83,"a":0.24},{"s":36,"f":3.36,"a":0.4},{"s":36,"f":4,"a":0.65},{"s":36,"f":4.36,"a":0.78},{"s":36,"f":4.76,"a":0.8},{"s":36,"f":5.19,"a":0.7},{"s":36,"f":5.66,"a":0.5},{"s":36,"f":6.73,"a":0.26},{"s":36,"f":8,"a":0.18},
{"s":37,"f":0.213,"a":0.08},{"s":37,"f":0.25,"a":0.1},{"s":37,"f":0.3,"a":0.14},{"s":37,"f":0.35,"a":0.22},{"s":37,"f":0.37,"a":0.245},{"s":37,"f":0.4,"a":0.16},{"s":37,"f":0.5,"a":0.2},{"s":37,"f":0.6,"a":0.22},{"s":37,"f":0.71,"a":0.23},{"s":37,"f":0.84,"a":0.22},{"s":37,"f":1,"a":0.2},{"s":37,"f":1.19,"a":0.18},{"s":37,"f":1.41,"a":0.15},{"s":37,"f":1.68,"a":0.13},{"s":37,"f":2,"a":0.12},{"s":37,"f":2.38,"a":0.14},{"s":37,"f":2.83,"a":0.2},{"s":37,"f":3.36,"a":0.26},{"s":37,"f":4,"a":0.29},{"s":37,"f":4.36,"a":0.3},{"s":37,"f":4.76,"a":0.27},{"s":37,"f":5.19,"a":0.22},{"s":37,"f":5.66,"a":0.19},{"s":37,"f":6.73,"a":0.14},{"s":37,"f":8,"a":0.12},
{"s":38,"f":0.213,"a":0.06},{"s":38,"f":0.25,"a":0.07},{"s":38,"f":0.3,"a":0.06},{"s":38,"f":0.36,"a":0.036},{"s":38,"f":0.44,"a":0.13},{"s":38,"f":0.5,"a":0.14},{"s":38,"f":0.6,"a":0.16},{"s":38,"f":0.71,"a":0.17},{"s":38,"f":0.84,"a":0.17},{"s":38,"f":1,"a":0.16},{"s":38,"f":1.19,"a":0.15},{"s":38,"f":1.41,"a":0.14},{"s":38,"f":1.68,"a":0.13},{"s":38,"f":2,"a":0.12},{"s":38,"f":2.38,"a":0.13},{"s":38,"f":2.83,"a":0.18},{"s":38,"f":3.36,"a":0.3},{"s":38,"f":4,"a":0.42},{"s":38,"f":4.36,"a":0.46},{"s":38,"f":4.76,"a":0.44},{"s":38,"f":5.19,"a":0.36},{"s":38,"f":5.66,"a":0.26},{"s":38,"f":6.73,"a":0.14},{"s":38,"f":8,"a":0.1},
{"s":39,"f":0.213,"a":0.18},{"s":39,"f":0.23,"a":0.09},{"s":39,"f":0.25,"a":0.08},{"s":39,"f":0.35,"a":0.12},{"s":39,"f":0.5,"a":0.17},{"s":39,"f":0.6,"a":0.2},{"s":39,"f":0.71,"a":0.22},{"s":39,"f":0.84,"a":0.23},{"s":39,"f":1,"a":0.22},{"s":39,"f":1.19,"a":0.2},{"s":39,"f":1.41,"a":0.18},{"s":39,"f":1.68,"a":0.16},{"s":39,"f":2,"a":0.15},{"s":39,"f":2.38,"a":0.2},{"s":39,"f":2.83,"a":0.32},{"s":39,"f":3.36,"a":0.5},{"s":39,"f":4,"a":0.7},{"s":39,"f":4.36,"a":0.78},{"s":39,"f":4.76,"a":0.72},{"s":39,"f":5.19,"a":0.55},{"s":39,"f":5.66,"a":0.38},{"s":39,"f":6.73,"a":0.2},{"s":39,"f":8,"a":0.14},
{"s":40,"f":0.213,"a":0.005},{"s":40,"f":0.23,"a":0.05},{"s":40,"f":0.25,"a":0.07},{"s":40,"f":0.3,"a":0.06},{"s":40,"f":0.35,"a":0.08},{"s":40,"f":0.5,"a":0.12},{"s":40,"f":0.6,"a":0.14},{"s":40,"f":0.71,"a":0.16},{"s":40,"f":0.84,"a":0.17},{"s":40,"f":1,"a":0.18},{"s":40,"f":1.19,"a":0.18},{"s":40,"f":1.41,"a":0.17},{"s":40,"f":1.68,"a":0.15},{"s":40,"f":2,"a":0.13},{"s":40,"f":2.38,"a":0.12},{"s":40,"f":2.83,"a":0.14},{"s":40,"f":3.36,"a":0.2},{"s":40,"f":4,"a":0.3},{"s":40,"f":4.36,"a":0.34},{"s":40,"f":4.76,"a":0.33},{"s":40,"f":5.19,"a":0.27},{"s":40,"f":5.66,"a":0.2},{"s":40,"f":6.73,"a":0.12},{"s":40,"f":8,"a":0.08},
{"s":41,"f":0.213,"a":0.04},{"s":41,"f":0.25,"a":0.05},{"s":41,"f":0.35,"a":0.08},{"s":41,"f":0.5,"a":0.12},{"s":41,"f":0.6,"a":0.14},{"s":41,"f":0.71,"a":0.16},{"s":41,"f":0.84,"a":0.18},{"s":41,"f":1,"a":0.2},{"s":41,"f":1.19,"a":0.21},{"s":41,"f":1.41,"a":0.21},{"s":41,"f":1.68,"a":0.2},{"s":41,"f":2,"a":0.19},{"s":41,"f":2.38,"a":0.2},{"s":41,"f":2.83,"a":0.24},{"s":41,"f":3.36,"a":0.32},{"s":41,"f":4,"a":0.4},{"s":41,"f":4.36,"a":0.43},{"s":41,"f":4.76,"a":0.42},{"s":41,"f":5.19,"a":0.36},{"s":41,"f":5.66,"a":0.28},{"s":41,"f":6.73,"a":0.18},{"s":41,"f":8,"a":0.13},
{"s":42,"f":0.213,"a":0.03},{"s":42,"f":0.25,"a":0.035},{"s":42,"f":0.35,"a":0.05},{"s":42,"f":0.5,"a":0.07},{"s":42,"f":0.6,"a":0.08},{"s":42,"f":0.71,"a":0.09},{"s":42,"f":0.84,"a":0.1},{"s":42,"f":1,"a":0.11},{"s":42,"f":1.19,"a":0.12},{"s":42,"f":1.41,"a":0.13},{"s":42,"f":1.68,"a":0.13},{"s":42,"f":2,"a":0.13},{"s":42,"f":2.38,"a":0.15},{"s":42,"f":2.83,"a":0.2},{"s":42,"f":3.36,"a":0.3},{"s":42,"f":4,"a":0.45},{"s":42,"f":4.36,"a":0.55},{"s":42,"f":4.76,"a":0.6},{"s":42,"f":5.19,"a":0.55},{"s":42,"f":5.66,"a":0.42},{"s":42,"f":6.73,"a":0.22},{"s":42,"f":8,"a":0.14},
{"s":43,"f":0.213,"a":0.05},{"s":43,"f":0.25,"a":0.06},{"s":43,"f":0.35,"a":0.09},{"s":43,"f":0.5,"a":0.13},{"s":43,"f":0.6,"a":0.15},{"s":43,"f":0.71,"a":0.17},{"s":43,"f":0.84,"a":0.2},{"s":43,"f":1,"a":0.24},{"s":43,"f":1.19,"a":0.29},{"s":43,"f":1.41,"a":0.34},{"s":43,"f":1.68,"a":0.38},{"s":43,"f":2,"a":0.42},{"s":43,"f":2.38,"a":0.48},{"s":43,"f":2.83,"a":0.56},{"s":43,"f":3.36,"a":0.66},{"s":43,"f":4,"a":0.78},{"s":43,"f":4.36,"a":0.85},{"s":43,"f":4.76,"a":0.86},{"s":43,"f":5.19,"a":0.78},{"s":43,"f":5.66,"a":0.58},{"s":43,"f":6.73,"a":0.3},{"s":43,"f":8,"a":0.2},
{"s":44,"f":0.213,"a":0.06},{"s":44,"f":0.25,"a":0.07},{"s":44,"f":0.35,"a":0.11},{"s":44,"f":0.5,"a":0.17},{"s":44,"f":0.6,"a":0.2},{"s":44,"f":0.71,"a":0.22},{"s":44,"f":0.84,"a":0.23},{"s":44,"f":1,"a":0.23},{"s":44,"f":1.19,"a":0.22},{"s":44,"f":1.41,"a":0.2},{"s":44,"f":1.68,"a":0.19},{"s":44,"f":2,"a":0.2},{"s":44,"f":2.38,"a":0.26},{"s":44,"f":2.83,"a":0.38},{"s":44,"f":3.36,"a":0.55},{"s":44,"f":4,"a":0.7},{"s":44,"f":4.36,"a":0.72},{"s":44,"f":4.76,"a":0.68},{"s":44,"f":5.19,"a":0.56},{"s":44,"f":5.66,"a":0.42},{"s":44,"f":6.73,"a":0.26},{"s":44,"f":8,"a":0.29},
{"s":45,"f":0.213,"a":0.05},{"s":45,"f":0.25,"a":0.06},{"s":45,"f":0.35,"a":0.11},{"s":45,"f":0.5,"a":0.17},{"s":45,"f":0.6,"a":0.2},{"s":45,"f":0.71,"a":0.21},{"s":45,"f":0.84,"a":0.2},{"s":45,"f":1,"a":0.18},{"s":45,"f":1.19,"a":0.15},{"s":45,"f":1.41,"a":0.12},{"s":45,"f":1.68,"a":0.1},{"s":45,"f":2,"a":0.09},{"s":45,"f":2.38,"a":0.11},{"s":45,"f":2.83,"a":0.18},{"s":45,"f":3.36,"a":0.27},{"s":45,"f":4,"a":0.28},{"s":45,"f":4.36,"a":0.25},{"s":45,"f":4.76,"a":0.2},{"s":45,"f":5.19,"a":0.16},{"s":45,"f":5.66,"a":0.13},{"s":45,"f":6.73,"a":0.09},{"s":45,"f":8,"a":0.06},
{"s":47,"f":0.213,"a":0.05},{"s":47,"f":0.25,"a":0.06},{"s":47,"f":0.35,"a":0.1},{"s":47,"f":0.5,"a":0.15},{"s":47,"f":0.6,"a":0.18},{"s":47,"f":0.71,"a":0.22},{"s":47,"f":0.84,"a":0.27},{"s":47,"f":1,"a":0.33},{"s":47,"f":1.19,"a":0.4},{"s":47,"f":1.41,"a":0.48},{"s":47,"f":1.68,"a":0.56},{"s":47,"f":2,"a":0.65},{"s":47,"f":2.38,"a":0.74},{"s":47,"f":2.83,"a":0.83},{"s":47,"f":3.36,"a":0.9},{"s":47,"f":4,"a":0.95},{"s":47,"f":4.36,"a":0.96},{"s":47,"f":4.76,"a":0.9},{"s":47,"f":5.19,"a":0.72},{"s":47,"f":5.66,"a":0.5},{"s":47,"f":6.73,"a":0.35},{"s":47,"f":8,"a":0.43},
{"s":48,"f":0.213,"a":0.07},{"s":48,"f":0.25,"a":0.08},{"s":48,"f":0.35,"a":0.12},{"s":48,"f":0.5,"a":0.18},{"s":48,"f":0.6,"a":0.22},{"s":48,"f":0.71,"a":0.27},{"s":48,"f":0.84,"a":0.33},{"s":48,"f":1,"a":0.4},{"s":48,"f":1.19,"a":0.47},{"s":48,"f":1.41,"a":0.55},{"s":48,"f":1.68,"a":0.63},{"s":48,"f":2,"a":0.7},{"s":48,"f":2.38,"a":0.77},{"s":48,"f":2.83,"a":0.83},{"s":48,"f":3.36,"a":0.88},{"s":48,"f":4,"a":0.92},{"s":48,"f":4.36,"a":0.93},{"s":48,"f":4.76,"a":0.88},{"s":48,"f":5.19,"a":0.74},{"s":48,"f":5.66,"a":0.56},{"s":48,"f":6.73,"a":0.38},{"s":48,"f":8,"a":0.32},
{"s":49,"f":0.213,"a":0.06},{"s":49,"f":0.25,"a":0.07},{"s":49,"f":0.35,"a":0.11},{"s":49,"f":0.5,"a":0.16},{"s":49,"f":0.6,"a":0.19},{"s":49,"f":0.71,"a":0.23},{"s":49,"f":0.84,"a":0.28},{"s":49,"f":1,"a":0.34},{"s":49,"f":1.19,"a":0.4},{"s":49,"f":1.41,"a":0.47},{"s":49,"f":1.68,"a":0.55},{"s":49,"f":2,"a":0.63},{"s":49,"f":2.38,"a":0.72},{"s":49,"f":2.83,"a":0.8},{"s":49,"f":3.36,"a":0.88},{"s":49,"f":4,"a":0.94},{"s":49,"f":4.36,"a":0.96},{"s":49,"f":4.76,"a":0.93},{"s":49,"f":5.19,"a":0.8},{"s":49,"f":5.66,"a":0.58},{"s":49,"f":6.73,"a":0.35},{"s":49,"f":8,"a":0.29},
{"s":50,"f":0.213,"a":0.04},{"s":50,"f":0.25,"a":0.05},{"s":50,"f":0.35,"a":0.07},{"s":50,"f":0.5,"a":0.11},{"s":50,"f":0.6,"a":0.13},{"s":50,"f":0.71,"a":0.15},{"s":50,"f":0.84,"a":0.16},{"s":50,"f":1,"a":0.17},{"s":50,"f":1.19,"a":0.17},{"s":50,"f":1.41,"a":0.16},{"s":50,"f":1.68,"a":0.15},{"s":50,"f":2,"a":0.14},{"s":50,"f":2.38,"a":0.14},{"s":50,"f":2.83,"a":0.15},{"s":50,"f":3.36,"a":0.17},{"s":50,"f":4,"a":0.18},{"s":50,"f":4.36,"a":0.19},{"s":50,"f":4.76,"a":0.19},{"s":50,"f":5.19,"a":0.19},{"s":50,"f":5.66,"a":0.185},{"s":50,"f":6.73,"a":0.18},{"s":50,"f":8,"a":0.17},
{"s":51,"f":0.213,"a":0.05},{"s":51,"f":0.25,"a":0.06},{"s":51,"f":0.35,"a":0.1},{"s":51,"f":0.5,"a":0.16},{"s":51,"f":0.6,"a":0.2},{"s":51,"f":0.71,"a":0.26},{"s":51,"f":0.84,"a":0.33},{"s":51,"f":1,"a":0.42},{"s":51,"f":1.19,"a":0.52},{"s":51,"f":1.41,"a":0.63},{"s":51,"f":1.68,"a":0.74},{"s":51,"f":2,"a":0.84},{"s":51,"f":2.38,"a":0.9},{"s":51,"f":2.83,"a":0.86},{"s":51,"f":3.36,"a":0.7},{"s":51,"f":4,"a":0.5},{"s":51,"f":4.36,"a":0.42},{"s":51,"f":4.76,"a":0.36},{"s":51,"f":5.19,"a":0.3},{"s":51,"f":5.66,"a":0.25},{"s":51,"f":6.73,"a":0.2},{"s":51,"f":8,"a":0.18}
]},
"mark": {"type": "line", "interpolate": "monotone", "color": "black", "strokeWidth": 1.4, "clip": true},
"encoding": {
  "x": {"field": "f", "type": "quantitative", "scale": {"type": "log", "domain": [0.213, 8], "nice": false},
        "axis": {"values": [0.25, 0.5, 1, 2, 4, 8], "format": "~g", "title": "Frequency (kHz)", "titleY": 107, "titleBaseline": "alphabetic", "labelPadding": 16, "labelFlush": false, "labelOverlap": false, "labelBound": false}},
  "y": {"field": "a", "type": "quantitative", "scale": {"domain": [0, 1], "nice": false, "zero": false},
        "axis": {"values": [0, 0.2, 0.4, 0.6, 0.8, 1], "format": ".1f", "title": "Absorbance", "titleX": -98, "titleY": 317, "titleAngle": -90, "titleBaseline": "alphabetic", "titleAlign": "center", "labelPadding": 9}},
  "detail": {"field": "s", "type": "nominal"}
}
}
